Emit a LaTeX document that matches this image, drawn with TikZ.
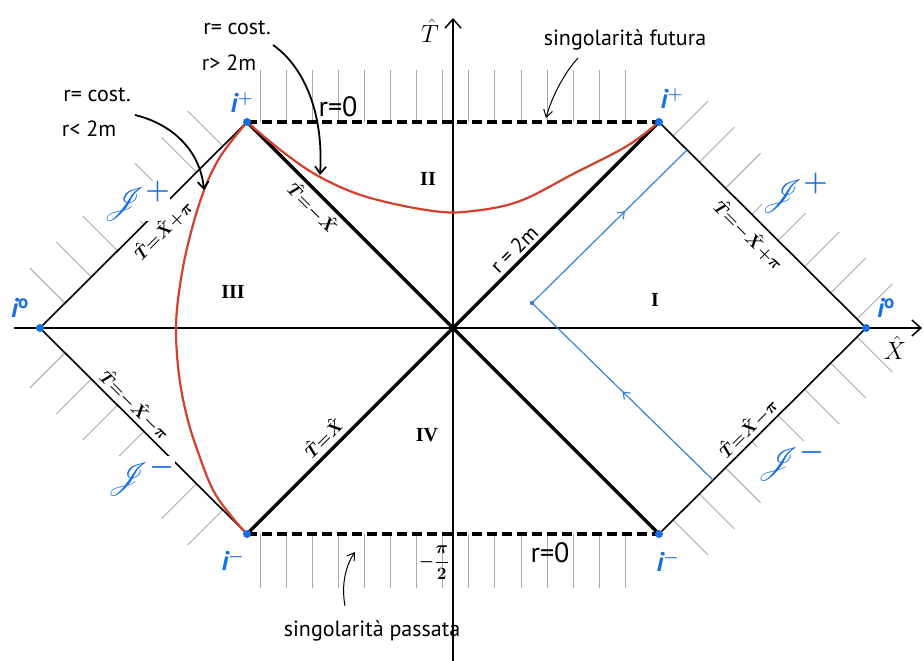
\documentclass[tikz,border=0pt]{standalone}
\usepackage{fontspec}
\usepackage{amsmath}
\usepackage{mathrsfs}
\usepackage{bm}
\setmainfont{PT Sans}
\newfontfamily\serifnum{Liberation Serif}
\usetikzlibrary{arrows.meta,decorations.markings}
\definecolor{scblue}{RGB}{25,110,230}
\definecolor{rayblue}{RGB}{55,130,210}
\definecolor{curvered}{RGB}{210,65,45}
\definecolor{hatchgray}{RGB}{170,170,170}
\tikzset{
  hatch/.style={draw=hatchgray, line width=0.9pt},
  edgeline/.style={line width=1.6pt},
  horizon/.style={line width=3.3pt},
  sing/.style={line width=3.3pt, dash pattern=on 10pt off 5pt},
  axis/.style={line width=1.5pt, -{Straight Barb[length=9pt,width=16pt,line width=1.5pt]}},
  rcurve/.style={draw=curvered, line width=2.2pt},
  ray/.style={draw=rayblue, line width=1.2pt},
  pointer/.style={line width=1.8pt, -{Straight Barb[length=7pt,width=11pt,line width=1.8pt]}},
  thinpointer/.style={line width=1pt, -{Straight Barb[length=7pt,width=9pt,line width=1pt]}},
  bdot/.style={circle, fill=scblue, inner sep=0pt, minimum size=8pt},
  ilabel/.style={text=scblue, font=\fontsize{27}{27}\selectfont\bfseries\itshape, inner sep=1pt},
  scri/.style={text=scblue, font=\fontsize{24.88}{25}\selectfont\boldmath, fill=white, inner sep=0pt, scale=1.35},
  region/.style={font=\fontsize{20}{20}\selectfont\serifnum\bfseries},
  hand/.style={font=\fontsize{22}{22}\selectfont, inner sep=1pt},
  diag/.style={font=\fontsize{16}{16}\selectfont\boldmath, inner sep=1pt},
  midarrow/.style={postaction={decorate, decoration={markings,
      mark=at position #1 with {\arrow{Straight Barb[length=6pt,width=9pt,line width=1.1pt]}}}}}
}
\begin{document}
\begin{tikzpicture}[x=1pt,y=-1pt]
\useasboundingbox (0,0) rectangle (924,661);
\fill[white] (0,0) rectangle (924,661);

% key points
\coordinate (O) at (453,328);
\coordinate (L) at (40,328);
\coordinate (R) at (866,328);
\coordinate (TL) at (247,122);
\coordinate (TR) at (659,122);
\coordinate (BL) at (247,534);
\coordinate (BR) at (659,534);

% hatching at the singularities
\foreach \x in {260,286.1,...,650} {
  \draw[hatch] (\x,70) -- (\x,122);
  \draw[hatch] (\x,534) -- (\x,588);
}
% hatching outside the null infinities
\foreach \x in {65,91.3,...,225} {
  \draw[hatch] (\x,{328-(\x-40)*0.995}) -- ++(-35,-35);
  \draw[hatch] (\x,{328+(\x-40)*0.995}) -- ++(-35,35);
}
\foreach \x in {673,699.3,...,860} {
  \draw[hatch] (\x,{122+(\x-659)*0.995}) -- ++(35,-35);
  \draw[hatch] (\x,{534-(\x-659)*0.995}) -- ++(35,35);
}

% axes
\coordinate (xs) at (14,328);
\coordinate (xe) at (922,328);
\coordinate (ys) at (453,661);
\coordinate (ye) at (453,18);
\draw[axis] (xs) -- (xe);
\draw[axis] (ys) -- (ye);

% boundaries
\draw[edgeline] (L) -- (TL);
\draw[edgeline] (L) -- (BL);
\draw[edgeline] (R) -- (TR);
\draw[edgeline] (R) -- (BR);
\draw[horizon] (TL) -- (BR);
\draw[horizon] (TR) -- (BL);
\draw[sing] (TL) -- (TR);
\draw[sing] (BL) -- (BR);

% null ray in region I
\coordinate (rA) at (713,480);
\coordinate (rB) at (532,303);
\coordinate (rC) at (687,150);
\draw[ray, midarrow=0.5] (rA) -- (rB);
\draw[ray, midarrow=0.6] (rB) -- (rC);
\fill[rayblue] (rB) circle (2.2pt);

% r = const curves
\draw[rcurve] plot[smooth, tension=0.6] coordinates {(TL) (283,152) (320,177) (367,197) (433,211) (473,211) (520,201) (573,174) (627,146) (TR)};
\draw[rcurve] plot[smooth, tension=0.6] coordinates {(TL) (220,157) (203,193) (189,240) (180,285) (176,328) (179,375) (187,417) (198,452) (213,490) (232,517) (BL)};

% blue points
\foreach \p in {TL,TR,BL,BR,L,R} \node[bdot] at (\p) {};

% labels: points at infinity
\node[ilabel] (ip1) at (242,103) {i$^{\bm{+}}$};
\node[ilabel] (ip2) at (672,99) {i$^{\bm{+}}$};
\node[ilabel] (i01) at (20,308) {i$^{\mathbf{o}}$};
\node[ilabel] (i02) at (886,308) {i$^{\mathbf{o}}$};
\node[ilabel] (im1) at (233,561) {i$^{\bm{-}}$};
\node[ilabel] (im2) at (668,562) {i$^{\bm{-}}$};

% scri labels
\node[scri] (s1) at (137,201) {$\mathscr{J}^{+}$};
\node[scri] (s2) at (795,193) {$\mathscr{J}^{+}$};
\node[scri] (s3) at (141,476) {$\mathscr{J}^{-}$};
\node[scri] (s4) at (791,461) {$\mathscr{J}^{-}$};

% region labels
\node[region] (rI) at (655,300) {I};
\node[region] (rII) at (428,179) {II};
\node[region] (rIII) at (233,292) {III};
\node[region] (rIV) at (427,435) {IV};

% axis labels
\node[font=\fontsize{26}{26}\selectfont] (Tlab) at (430,31) {$\hat{T}$};
\node[font=\fontsize{24}{24}\selectfont] (Xlab) at (895,348) {$\hat{X}$};

% line labels
\node[diag, rotate=45] (e1) at (163,230) {$\hat{T}{=}\hat{X}{+}\pi$};
\node[diag, rotate=-45] (e2) at (313,208) {$\hat{T}{=}{-}\hat{X}$};
\node[diag, rotate=-45] (e3) at (749,235) {$\hat{T}{=}{-}\hat{X}{+}\pi$};
\node[diag, rotate=45] (e4) at (748,428) {$\hat{T}{=}\hat{X}{-}\pi$};
\node[diag, rotate=-45] (e5) at (135,405) {$\hat{T}{=}{-}\hat{X}{-}\pi$};
\node[diag, rotate=45] (e6) at (323,437) {$\hat{T}{=}\hat{X}$};
\node[hand, rotate=45, font=\fontsize{21}{21}\selectfont] (e7) at (514,249) {r = 2m};

% singularity labels
\node[hand, font=\fontsize{28}{28}\selectfont] (r0a) at (338,107) {r=0};
\node[hand, font=\fontsize{28}{28}\selectfont] (r0b) at (550,553) {r=0};
\node[font=\fontsize{16}{16}\selectfont\boldmath] (mpi) at (434,563) {$-\dfrac{\pi}{2}$};

% annotations
\node[hand] (c1a) at (237,28) {r= cost.};
\node[hand] (c1b) at (229,63) {r> 2m};
\node[hand] (c2a) at (97,95) {r= cost.};
\node[hand] (c2b) at (89,129) {r< 2m};
\node[hand] (sf) at (625,40) {singolarità futura};
\node[hand] (sp) at (372,631) {singolarità passata};

\coordinate (a1s) at (273,45);
\coordinate (a1e) at (320,175);
\coordinate (a2s) at (135,115);
\coordinate (a2e) at (204,190);
\coordinate (a3s) at (578,58);
\coordinate (a3e) at (546,118);
\coordinate (a4s) at (345,606);
\coordinate (a4e) at (355,552);
\draw[pointer] (a1s) .. controls (302,65) and (324,110) .. (a1e);
\draw[pointer] (a2s) .. controls (172,124) and (200,150) .. (a2e);
\draw[thinpointer] (a3s) .. controls (565,72) and (552,96) .. (a3e);
\draw[thinpointer] (a4s) .. controls (341,584) and (346,565) .. (a4e);
\end{tikzpicture}
\end{document}
